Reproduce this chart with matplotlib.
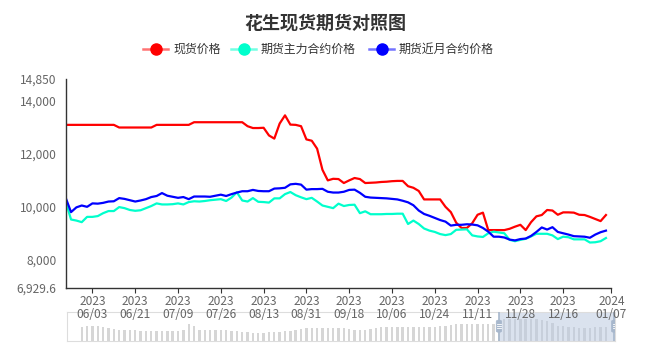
import numpy as np
import matplotlib.pyplot as plt
from matplotlib.lines import Line2D
from matplotlib.patches import Rectangle, FancyBboxPatch

plt.rcParams['font.family'] = ['Noto Sans CJK SC', 'DejaVu Sans']

# chart data (one value per category on the x axis, last one is empty)
title = '花生现货期货对照图'
names = ['现货价格', '期货主力合约价格', '期货近月合约价格']
colors = ['#FF0000', '#00FFCC', '#0000FF']

tick_idx = [5, 13, 21, 29, 37, 45, 53, 61, 69, 77, 85, 93, 102]
tick_labels = ['2023\n06/03', '2023\n06/21', '2023\n07/09', '2023\n07/26',
               '2023\n08/13', '2023\n08/31', '2023\n09/18', '2023\n10/06',
               '2023\n10/24', '2023\n11/11', '2023\n11/28', '2023\n12/16',
               '2024\n01/07']

spot = [13100, 13100, 13100, 13100, 13100, 13100, 13100, 13100, 13100, 13100,
        13000, 13000, 13000, 13000, 13000, 13000, 13000, 13100, 13100, 13100,
        13100, 13100, 13100, 13100, 13200, 13200, 13200, 13200, 13200, 13200,
        13200, 13200, 13200, 13200, 13050, 12980, 12980, 12990, 12700, 12580,
        13150, 13460, 13110, 13100, 13050, 12550, 12500, 12200, 11400, 11000,
        11060, 11050, 10900, 11000, 11090, 11050, 10900, 10910, 10920, 10940,
        10950, 10970, 10980, 10980, 10780, 10720, 10600, 10280, 10280, 10280,
        10280, 10000, 9800, 9400, 9200, 9200, 9380, 9700, 9780, 9120,
        9120, 9120, 9120, 9170, 9250, 9320, 9120, 9420, 9640, 9690,
        9880, 9860, 9700, 9790, 9790, 9780, 9700, 9690, 9620, 9540,
        9460, 9690, np.nan]

main_fut = [10200, 9520, 9480, 9420, 9620, 9620, 9650, 9760, 9840, 9840,
            9990, 9950, 9880, 9850, 9870, 9950, 10030, 10130, 10090, 10090,
            10100, 10130, 10090, 10180, 10210, 10200, 10220, 10250, 10270, 10290,
            10220, 10350, 10550, 10240, 10200, 10330, 10190, 10180, 10160, 10320,
            10320, 10480, 10560, 10440, 10360, 10290, 10340, 10200, 10050, 10000,
            9950, 10120, 10030, 10070, 10080, 9760, 9830, 9720, 9720, 9720,
            9730, 9730, 9740, 9740, 9350, 9480, 9350, 9180, 9100, 9050,
            8970, 8930, 8970, 9130, 9140, 9150, 8920, 8880, 8860, 9000,
            9060, 9030, 9000, 8750, 8700, 8750, 8790, 8880, 8980, 8980,
            8980, 8920, 8780, 8870, 8850, 8770, 8770, 8770, 8650, 8660,
            8700, 8820, np.nan]

near_fut = [10340, 9800, 9980, 10050, 10000, 10130, 10120, 10150, 10200, 10210,
            10330, 10300, 10250, 10200, 10240, 10290, 10370, 10410, 10520, 10420,
            10380, 10340, 10370, 10290, 10390, 10390, 10390, 10380, 10420, 10460,
            10410, 10480, 10540, 10590, 10590, 10640, 10600, 10590, 10590, 10690,
            10700, 10720, 10850, 10870, 10840, 10650, 10670, 10670, 10680, 10570,
            10540, 10540, 10570, 10640, 10650, 10530, 10380, 10350, 10340, 10330,
            10320, 10300, 10280, 10230, 10170, 10060, 9860, 9730, 9660, 9580,
            9500, 9440, 9290, 9320, 9320, 9340, 9330, 9300, 9200, 9060,
            8870, 8870, 8840, 8760, 8730, 8780, 8800, 8900, 9050, 9220,
            9140, 9230, 9050, 9000, 8950, 8890, 8880, 8870, 8830, 8950,
            9040, 9100, np.nan]

# data shadow drawn in the zoom slider
shadow = [0, 0, 0, 14, 15, 15, 15, 14, 13, 12, 11, 11, 11, 11, 10, 10, 10, 10,
          10, 10, 10, 10, 11, 17, 15, 11, 11, 11, 11, 11, 11, 10, 10, 9, 9, 8,
          8, 8, 9, 9, 9, 10, 10, 11, 12, 13, 13, 13, 13, 13, 13, 13, 13, 12,
          11, 11, 11, 12, 13, 14, 14, 14, 14, 14, 14, 14, 14, 14, 14, 14, 15,
          15, 16, 17, 17, 17, 17, 17, 17, 17, 17, 18, 22, 22, 22, 22, 22, 22,
          22, 21, 20, 18, 15, 15, 14, 14, 13, 13, 13, 14, 14, 14, 0]
zoom_start = 81

y_min, y_max = 6929.6, 14850
y_ticks = [y_min, 8000, 10000, 12000, 14000, y_max]

fig = plt.figure(figsize=(6.5, 3.6), dpi=100)
ax = fig.add_axes([65.7 / 650, 1 - 288 / 360, (611.3 - 65.7) / 650, (288 - 78.6) / 360])

x = np.arange(len(spot))
for vals, c in zip([spot, main_fut, near_fut], colors):
    ax.plot(x, vals, color=c, lw=1.6, solid_joinstyle='round')

ax.set_xlim(0, len(spot) - 1)
ax.set_ylim(y_min, y_max)
ax.set_yticks(y_ticks)
ax.set_yticklabels(['{:,}'.format(v) if v != int(v) else '{:,}'.format(int(v))
                    for v in y_ticks])
ax.set_xticks(tick_idx)
ax.set_xticklabels(tick_labels, linespacing=0.95)

for s in ['top', 'right']:
    ax.spines[s].set_visible(False)
for s in ['left', 'bottom']:
    ax.spines[s].set_color('#333333')
    ax.spines[s].set_linewidth(1)
ax.tick_params(axis='y', length=0, pad=6.5, labelsize=8.6, labelcolor='#666666')
ax.tick_params(axis='x', length=3.6, color='#333333', pad=1.5, labelsize=8.6,
               labelcolor='#666666')

# title and legend
fig.text(0.5, 1 - 23 / 360, title, ha='center', va='center', fontsize=13,
         fontweight='bold', color='#333333')
leg_x = [143, 231, 369]
for lx, name, c in zip(leg_x, names, colors):
    ly = 1 - 49 / 360
    fig.add_artist(Line2D([lx / 650, (lx + 25) / 650], [ly, ly], color=c,
                          lw=1.8, alpha=0.55))
    fig.add_artist(Line2D([(lx + 12.5) / 650], [ly], marker='o', color=c,
                          markersize=8, lw=0))
    fig.text((lx + 30) / 650, ly, name, ha='left', va='center', fontsize=8.6,
             color='#333333')

# zoom slider
sx0, sx1, sy0, sy1 = 67.3, 615, 311.7, 340.7
ax2 = fig.add_axes([sx0 / 650, 1 - sy1 / 360, (sx1 - sx0) / 650, (sy1 - sy0) / 360])
ax2.set_xlim(0.3, 102.7)
ax2.set_ylim(0, 29)
ax2.bar(x, shadow, width=0.45, color='#D6D6D6', zorder=1)
ax2.add_patch(Rectangle((zoom_start, 0), 102.7 - zoom_start, 29,
                        facecolor='#BCCBE0', alpha=0.55, lw=0, zorder=2))
for hx in [zoom_start, 102.55]:
    ax2.axvline(hx, color='#A7B7CC', lw=1.2, zorder=3)
    ax2.add_patch(FancyBboxPatch((hx - 0.5, 8.5), 1.0, 12,
                                 boxstyle='round,pad=0,rounding_size=0.4',
                                 facecolor='#A7B7CC', edgecolor='#A7B7CC',
                                 lw=0.5, zorder=4, mutation_aspect=3))
    for hy in [12.5, 14.5, 16.5]:
        ax2.plot([hx - 0.3, hx + 0.3], [hy, hy], color='white', lw=0.6, zorder=5)
ax2.set_xticks([])
ax2.set_yticks([])
for s in ax2.spines.values():
    s.set_color('#DDDDDD')
    s.set_linewidth(0.8)
ax2.set_facecolor('none')
ax.set_zorder(3)
ax.patch.set_visible(False)

fig.savefig('out.png', dpi=100)
